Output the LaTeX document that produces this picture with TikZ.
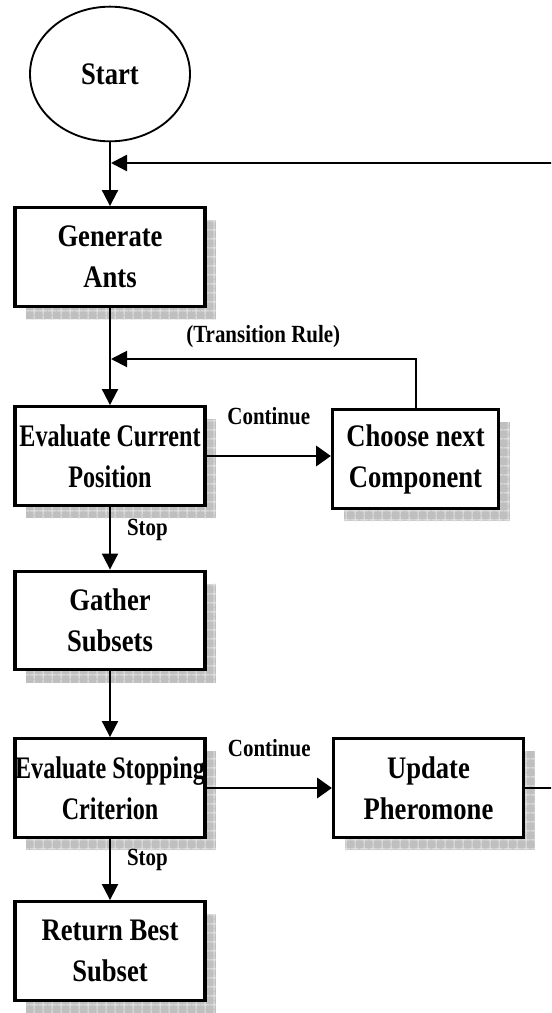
\documentclass[tikz,border=0pt]{standalone}
\usepackage{fontspec}
\usetikzlibrary{arrows.meta,shapes.geometric,shadows,patterns.meta}
\newfontfamily\acofont{Liberation Serif}[FakeStretch=0.85]
\newfontfamily\acotight{Liberation Serif}[FakeStretch=0.77]

\begin{document}
\begin{tikzpicture}[x=0.75pt, y=-0.75pt, >={Triangle[length=12pt,width=12pt]}, line width=1.5pt]
\tikzset{
	acostart/.style={draw, ellipse, line width=1.4pt, minimum width=120pt, minimum height=101pt, inner sep=0pt, font=\acofont\bfseries\fontsize{23.5}{30.75}\selectfont},
	acostep/.style={draw, line width=2.4pt, minimum width=142.5pt, minimum height=74pt, inner sep=0pt, align=center, fill=white,
		font=\acofont\bfseries\fontsize{23.5}{30.75}\selectfont,
		general shadow={fill=gray!50, shadow xshift=8.5pt, shadow yshift=-9.5pt},
		general shadow={pattern={Hatch[angle=0, distance=6.5pt, line width=0.8pt]}, pattern color=gray!20, shadow xshift=8.5pt, shadow yshift=-9.5pt}},
	acotightstep/.style={acostep, font=\acotight\bfseries\fontsize{23.5}{30.75}\selectfont},
	acolabel/.style={inner sep=0pt, font=\acofont\bfseries\fontsize{18.5}{22}\selectfont},
	acowide/.style={line width=2.1pt, >={Triangle[length=11pt,width=15pt]}}
}
\clip (0,0) rectangle (551,1013);

\node[acostart] (start) at (110,74) {Start};
\node[acostep] (gen) at (110,257) {Generate\\Ants};
\node[acotightstep] (ecp) at (110,456) {Evaluate Current\\Position};
\node[acostep, minimum width=124.5pt] (chs) at (415.5,459) {Choose next\\Component};
\node[acostep] (gat) at (110,620.5) {Gather\\Subsets};
\node[acotightstep] (esc) at (110,788) {Evaluate Stopping\\Criterion};
\node[acostep] (upd) at (428.5,788) {Update\\Pheromone};
\node[acostep] (ret) at (110,951) {Return Best\\Subset};

% loop entry points on the main line
\coordinate (loop) at (111,163);
\coordinate (trule) at (111,359);

\draw[->] (start) -- (gen);
\draw[->] (gen) -- (ecp);
\draw[->, acowide] (ecp.east) -- node[acolabel, above=22.5pt] {Continue} (ecp.east -| chs.west);
\draw[->] (chs.north) |- node[acolabel, pos=0.75, above=8pt] {(Transition Rule)} (trule);
\draw[->] (ecp) -- node[acolabel, pos=0.37, right=12pt] {Stop} (gat);
\draw[->] (gat) -- (esc);
\draw[->, acowide] (esc) -- node[acolabel, above=22.5pt] {Continue} (upd);
\draw[->] (esc) -- node[acolabel, pos=0.35, right=12pt] {Stop} (ret);
\draw[->, line width=1.9pt] (upd.east) -- ++(60,0) |- (loop);

\end{tikzpicture}
\end{document}
